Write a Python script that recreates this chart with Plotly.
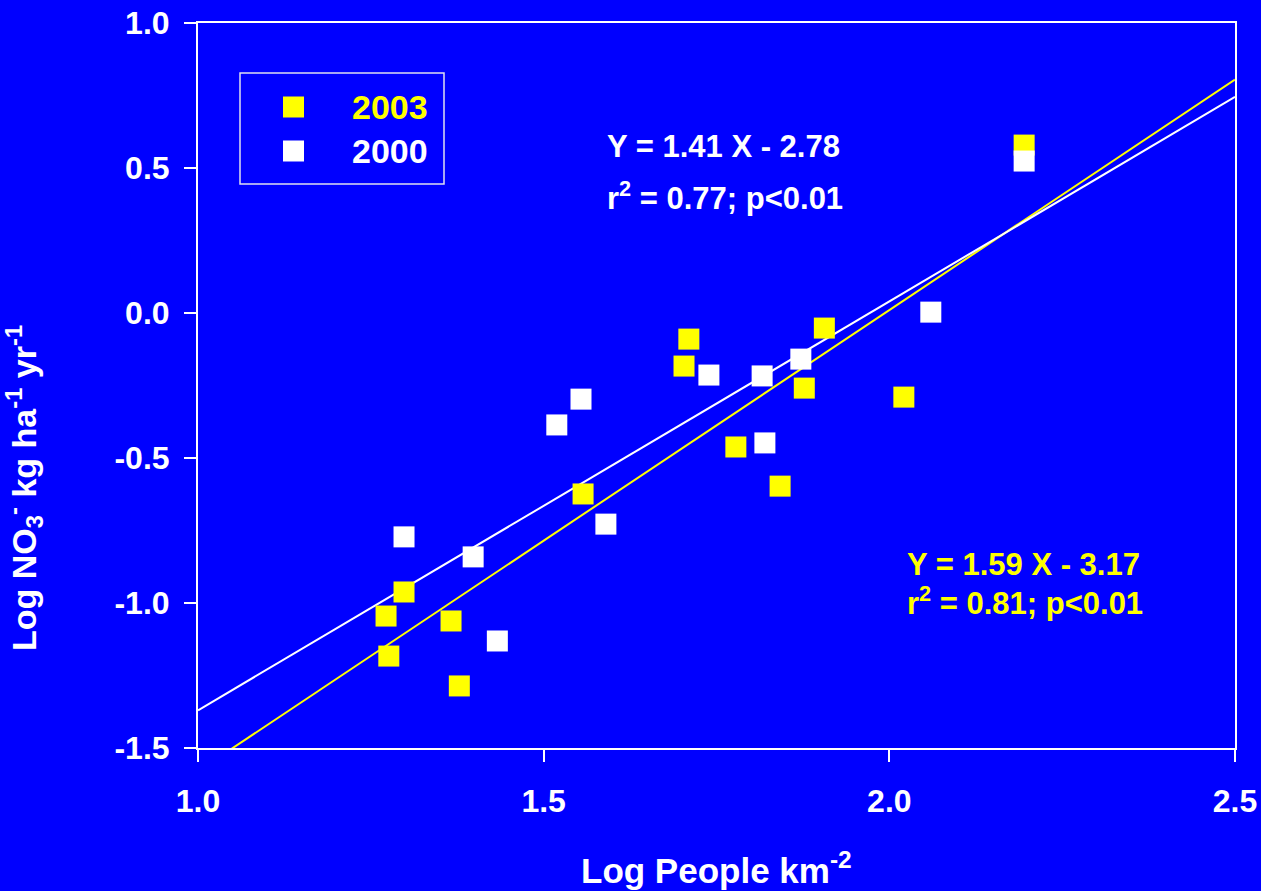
import plotly.graph_objects as go

# ---- data ----
x_2003 = [1.272, 1.276, 1.298, 1.366, 1.378, 1.557, 1.703, 1.710, 1.778, 1.842, 1.877, 1.906, 2.021, 2.195]
y_2003 = [-1.045, -1.183, -0.962, -1.062, -1.286, -0.624, -0.183, -0.090, -0.462, -0.597, -0.259, -0.052, -0.290, 0.579]

x_2000 = [1.298, 1.398, 1.433, 1.519, 1.554, 1.590, 1.739, 1.816, 1.820, 1.872, 2.060, 2.195]
y_2000 = [-0.772, -0.841, -1.131, -0.386, -0.297, -0.728, -0.214, -0.217, -0.448, -0.159, 0.003, 0.524]

fit_2003 = (1.59, -3.17)   # slope, intercept
fit_2000 = (1.41, -2.78)
fit_x = [1.0, 2.5]

x_ticks = [1.0, 1.5, 2.0, 2.5]
x_ticklabels = ["1.0", "1.5", "2.0", "2.5"]
y_ticks = [-1.5, -1.0, -0.5, 0.0, 0.5, 1.0]
y_ticklabels = ["-1.5", "-1.0", "-0.5", "0.0", "0.5", "1.0"]

BG = "#0000FF"
YEL = "#FFFF00"
WHT = "#FFFFFF"
FONT = "Liberation Sans, Arial, sans-serif"

W, H = 1261, 891
L, R, T, B = 198, 26, 23, 143


def px(xp):
    return (xp - L) / (W - L - R)


def py(yp):
    return (H - B - yp) / (H - T - B)


fig = go.Figure()

# regression lines (below markers)
for (m, b), col in [(fit_2003, YEL), (fit_2000, WHT)]:
    fig.add_trace(go.Scatter(
        x=fit_x, y=[m * v + b for v in fit_x], mode="lines",
        line=dict(color=col, width=2), showlegend=False, hoverinfo="skip"))

fig.add_trace(go.Scatter(
    x=x_2003, y=y_2003, mode="markers", name="2003",
    marker=dict(symbol="square", size=21, color=YEL, line=dict(width=0)),
    showlegend=False))
fig.add_trace(go.Scatter(
    x=x_2000, y=y_2000, mode="markers", name="2000",
    marker=dict(symbol="square", size=21, color=WHT, line=dict(width=0)),
    showlegend=False))

axis_common = dict(
    showgrid=False, zeroline=False, showline=True, linecolor=WHT, linewidth=2,
    mirror=True, ticks="outside", ticklen=12, tickwidth=2, tickcolor=WHT,
    automargin=False,
    tickfont=dict(family=FONT, size=32, color=WHT, weight="bold"),
)

fig.update_xaxes(range=[1.0, 2.5], tickvals=x_ticks, ticktext=x_ticklabels,
                 ticklabelstandoff=12, **axis_common)
fig.update_yaxes(range=[-1.5, 1.0], tickvals=y_ticks, ticktext=y_ticklabels,
                 ticklabelstandoff=8, **axis_common)

shapes = []
# legend box
shapes.append(dict(type="rect", xref="paper", yref="paper",
                   x0=px(240), x1=px(444), y0=py(184), y1=py(73),
                   line=dict(color="#E0E0F0", width=1.5), fillcolor=BG, layer="above"))
# legend swatches
for yc, col in [(107, YEL), (151, WHT)]:
    shapes.append(dict(type="rect", xref="paper", yref="paper",
                       x0=px(283), x1=px(304), y0=py(yc + 10.5), y1=py(yc - 10.5),
                       line=dict(width=0), fillcolor=col, layer="above"))

annotations = []
bold = dict(family=FONT, weight="bold")
for txt, yc, col in [("2003", 107, YEL), ("2000", 151, WHT)]:
    annotations.append(dict(text=txt, xref="paper", yref="paper", x=px(350), y=py(yc),
                            xanchor="left", yanchor="middle", showarrow=False,
                            font=dict(size=34, color=col, **bold)))

# equations
annotations += [
    dict(text="Y = 1.41 X - 2.78", xref="paper", yref="paper", x=px(605), y=py(147),
         xanchor="left", yanchor="middle", showarrow=False, font=dict(size=31, color=WHT, **bold)),
    dict(text="r<sup>2</sup> = 0.77; p<0.01", xref="paper", yref="paper", x=px(605), y=py(196),
         xanchor="left", yanchor="middle", showarrow=False, font=dict(size=31, color=WHT, **bold)),
    dict(text="Y = 1.59 X - 3.17", xref="paper", yref="paper", x=px(905), y=py(564),
         xanchor="left", yanchor="middle", showarrow=False, font=dict(size=31, color=YEL, **bold)),
    dict(text="r<sup>2</sup> = 0.81; p<0.01", xref="paper", yref="paper", x=px(905), y=py(601),
         xanchor="left", yanchor="middle", showarrow=False, font=dict(size=31, color=YEL, **bold)),
]

# axis titles
annotations.append(dict(text="Log People km<sup>-2</sup>", xref="paper", yref="paper",
                        x=0.5, y=py(868), xanchor="center", yanchor="middle", showarrow=False,
                        font=dict(size=35, color=WHT, **bold)))
annotations.append(dict(text="Log NO<sub>3</sub><sup>-</sup> kg ha<sup>-1</sup> yr<sup>-1</sup>",
                        xref="paper", yref="paper", x=px(24), y=py(488), textangle=-90,
                        xanchor="center", yanchor="middle", showarrow=False,
                        font=dict(size=34, color=WHT, **bold)))

fig.update_layout(
    width=W, height=H, autosize=False,
    margin=dict(l=L, r=R, t=T, b=B, pad=0, autoexpand=False),
    paper_bgcolor=BG, plot_bgcolor=BG,
    font=dict(family=FONT, color=WHT),
    shapes=shapes, annotations=annotations, showlegend=False,
)

fig.write_html("out.html", config={"displayModeBar": False},
               post_script="document.body.style.margin='0';")
